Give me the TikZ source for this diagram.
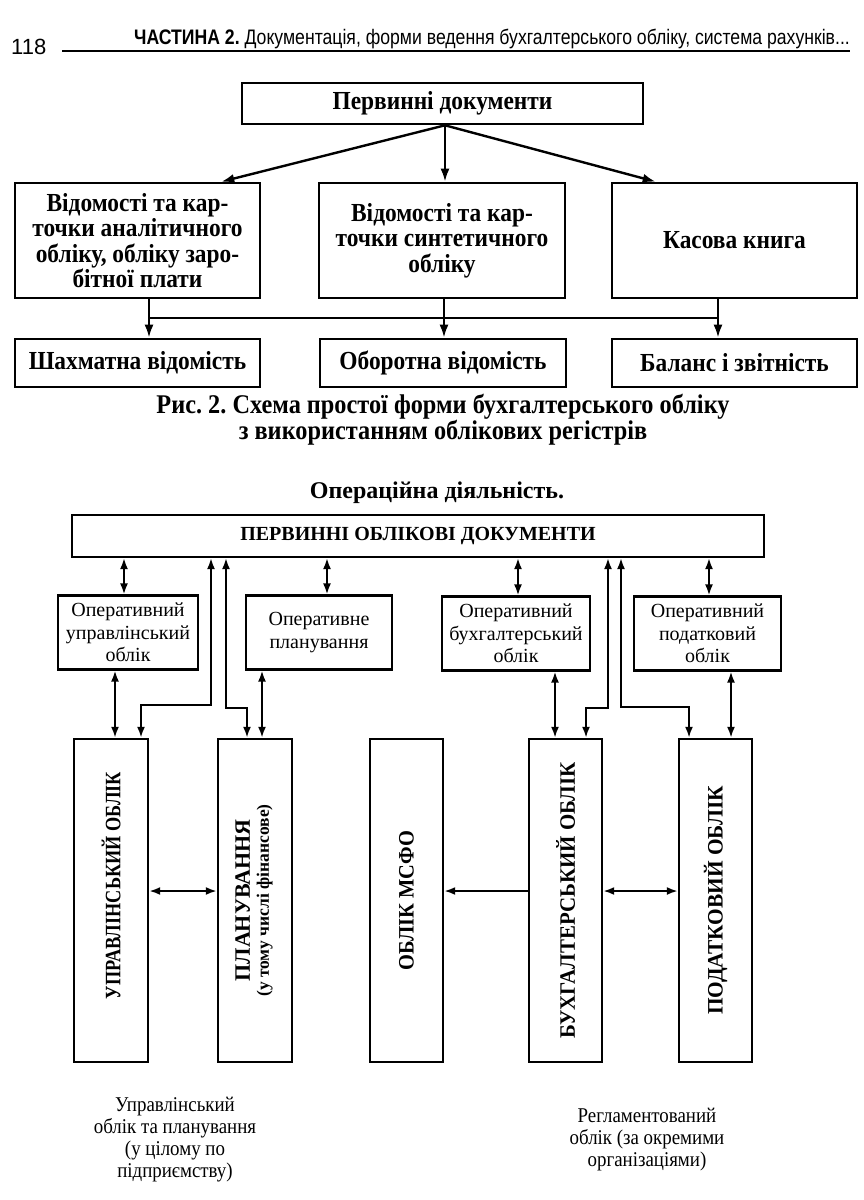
\documentclass[tikz,border=0pt]{standalone}
\usepackage{fontspec}
\setmainfont{Liberation Serif}
\setsansfont{Liberation Sans}
\newfontfamily\cond[FakeStretch=0.9]{Liberation Serif}
\newfontfamily\narrowsans[FakeStretch=0.84]{Liberation Sans}
\usetikzlibrary{arrows.meta,calc}
\frenchspacing
\begin{document}
\frenchspacing
\begin{tikzpicture}[x=1pt,y=-1pt,
  topbox/.style={draw, line width=2.6pt, inner sep=0pt, align=center,
    font=\cond\bfseries\fontsize{26}{25.5}\selectfont},
  tline/.style={line width=2.4pt},
  tarrow/.style={line width=2.4pt, -{Latex[length=13pt,width=9pt]}},
  opbox/.style={draw, line width=2.2pt, inner sep=0pt, align=center,
    minimum height=74pt, font=\fontsize{20}{22.5}\selectfont},
  tallbox/.style={draw, line width=2.4pt, inner sep=0pt, minimum width=74pt,
    minimum height=323pt, font=\bfseries\fontsize{22}{22}\selectfont},
  barrow/.style={line width=2pt, {Latex[length=11pt,width=8pt]}-{Latex[length=11pt,width=8pt]}},
  sarrow/.style={line width=2pt, -{Latex[length=11pt,width=8pt]}},
  note/.style={align=center, font=\cond\fontsize{21}{22}\selectfont}
]
\useasboundingbox (0,0) rectangle (863,1200);

% header
\node[anchor=base west, inner sep=0pt, font=\sffamily\fontsize{22}{22}\selectfont] (pg) at (11,54) {118};
\node[anchor=base east, inner sep=0pt, font=\narrowsans\fontsize{21}{21}\selectfont] (hd) at (850,44)
  {\textbf{ЧАСТИНА 2.} Документація, форми ведення бухгалтерського обліку, система рахунків...};
\coordinate (rl) at (62,51);
\draw[line width=1.6pt] (rl) -- (rl -| hd.east);

% top diagram
\node[topbox, minimum width=401pt, minimum height=41pt] (pd) at (442.5,103.5) {Первинні документи};
\node[topbox, minimum width=245pt, minimum height=115pt] (a1) at (137.5,240.5)
  {Відомості та кар-\\точки аналітичного\\обліку, обліку заро-\\бітної плати};
\node[topbox, minimum width=246pt, minimum height=115pt] (a2) at (442,240.5)
  {Відомості та кар-\\точки синтетичного\\обліку};
\node[topbox, minimum width=245pt, minimum height=115pt] (a3) at (734.5,240.5) {Касова книга};
\node[topbox, minimum width=245pt, minimum height=48pt] (b1) at (137.5,363) {Шахматна відомість};
\node[topbox, minimum width=246pt, minimum height=48pt] (b2) at (443,363) {Оборотна відомість};
\node[topbox, minimum width=245pt, minimum height=48pt] (b3) at (734.5,363) {Баланс і звітність};

\draw[tarrow] ([xshift=2.5pt]pd.south) -- ([xshift=-40pt]a1.north east);
\draw[tarrow] ([xshift=2.5pt]pd.south) -- ([xshift=3pt]a2.north);
\draw[tarrow] ([xshift=2.5pt]pd.south) -- ([xshift=45pt]a3.north west);

\coordinate (bus1) at (149,318);
\coordinate (bus3) at (718,318);
\draw[tline] (bus1) -- (bus3);
\draw[tarrow] (a1.south -| bus1) -- (b1.north -| bus1);
\draw[tarrow] ([xshift=2pt]a2.south) -- ([xshift=2pt]a2.south |- b2.north);
\draw[tarrow] (a3.south -| bus3) -- (b3.north -| bus3);

\node[align=center, font=\cond\bfseries\fontsize{27}{24.5}\selectfont] (cap) at (443,420)
  {Рис. 2. Схема простої форми бухгалтерського обліку\\з використанням облікових регістрів};

% bottom diagram
\node[font=\bfseries\fontsize{24}{24}\selectfont] (op) at (437,493) {Операційна діяльність.};
\node[draw, line width=2.2pt, minimum width=692pt, minimum height=42pt,
  font=\bfseries\fontsize{20}{20}\selectfont] (pd2) at (418,536) {ПЕРВИННІ ОБЛІКОВІ ДОКУМЕНТИ};

\node[opbox, minimum width=140pt] (o1) at (128,632.5) {Оперативний\\управлінський\\облік};
\node[opbox, minimum width=146pt] (o2) at (319,632.5) {Оперативне\\планування};
\node[opbox, minimum width=148pt] (o3) at (516,633.5) {Оперативний\\бухгалтерський\\облік};
\node[opbox, minimum width=147pt] (o4) at (707.5,633.5) {Оперативний\\податковий\\облік};

\node[tallbox] (t1) at (111,900.5) {\rotatebox{90}{\hspace*{30pt}\scalebox{0.83}[1]{УПРАВЛІНСЬКИЙ ОБЛІК}}};
\node[tallbox] (t2) at (255,900.5) {\rotatebox{90}{\begin{tabular}{@{}c@{}}ПЛАНУВАННЯ\\[-3pt]{\fontsize{17.5}{18}\selectfont(у тому числі фінансове)}\end{tabular}}};
\node[tallbox, minimum width=73pt] (t3) at (406.5,900.5) {\rotatebox{90}{\scalebox{0.93}[1]{ОБЛІК МСФО}}};
\node[tallbox, minimum width=73pt] (t4) at (565.5,900.5) {\rotatebox{90}{\scalebox{0.95}[1]{БУХГАЛТЕРСЬКИЙ ОБЛІК}}};
\node[tallbox, minimum width=73pt] (t5) at (715.5,900.5) {\rotatebox{90}{\scalebox{0.97}[1]{ПОДАТКОВИЙ ОБЛІК}}};

% documents <-> operational boxes
\draw[barrow] ([xshift=-4pt]o1.north |- pd2.south) -- ([xshift=-4pt]o1.north);
\draw[barrow] ([xshift=8pt]o2.north |- pd2.south) -- ([xshift=8pt]o2.north);
\draw[barrow] ([xshift=2pt]o3.north |- pd2.south) -- ([xshift=2pt]o3.north);
\draw[barrow] ([xshift=1.5pt]o4.north |- pd2.south) -- ([xshift=1.5pt]o4.north);

% operational boxes <-> tall boxes
\draw[barrow] ([xshift=4pt]t1.north |- o1.south) -- ([xshift=4pt]t1.north);
\draw[barrow] ([xshift=7pt]t2.north |- o2.south) -- ([xshift=7pt]t2.north);
\draw[barrow] ([xshift=-10.5pt]t4.north |- o3.south) -- ([xshift=-10.5pt]t4.north);
\draw[barrow] ([xshift=15.5pt]t5.north |- o4.south) -- ([xshift=15.5pt]t5.north);

% documents <-> tall boxes (elbows)
\draw[barrow] ([xshift=100pt]t1.north |- pd2.south) -- ++(0,147) -| ([xshift=30pt]t1.north);
\draw[barrow] ([xshift=-29pt]t2.north |- pd2.south) -- ++(0,150) -| ([xshift=-8pt]t2.north);
\draw[barrow] ([xshift=42.5pt]t4.north |- pd2.south) -- ++(0,150) -| ([xshift=20.5pt]t4.north);
\draw[barrow] ([xshift=-94.5pt]t5.north |- pd2.south) -- ++(0,149) -| ([xshift=-26.5pt]t5.north);

% horizontal links
\draw[barrow] ([yshift=9.5pt]t1.east) -- ([yshift=9.5pt]t2.west);
\draw[sarrow] ([yshift=9.5pt]t4.west) -- ([yshift=9.5pt]t3.east);
\draw[barrow] ([yshift=9.5pt]t4.east) -- ([yshift=9.5pt]t5.west);

% bottom notes
\node[note] (n1) at (175,1139.5) {Управлінський\\облік та планування\\(у цілому по\\підприємству)};
\node[note] (n2) at (647,1140) {Регламентований\\облік (за окремими\\організаціями)};
\end{tikzpicture}
\end{document}
